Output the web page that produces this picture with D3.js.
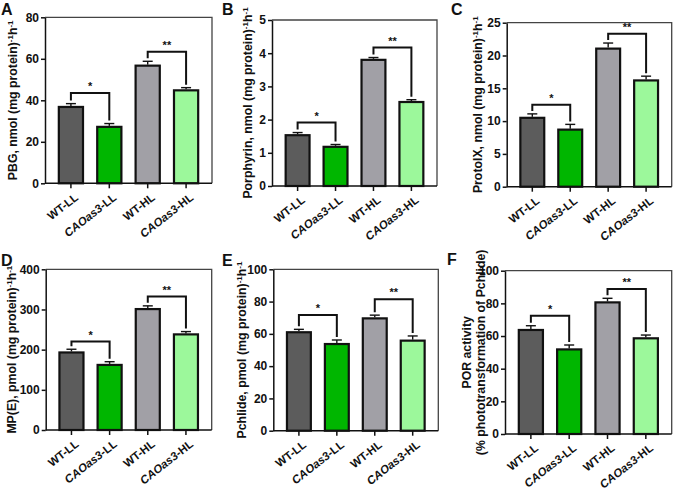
<!DOCTYPE html>
<html><head><meta charset="utf-8">
<script src="https://cdn.jsdelivr.net/npm/d3@7"></script>
<style>
html,body{margin:0;padding:0;background:#fff;}
svg{display:block;font-family:"Liberation Sans",Arial,Helvetica,sans-serif;}
</style></head>
<body>
<svg id="chart" width="676" height="490"></svg>
<script>
// ---- data ----
const categories = ["WT-LL", "CAOas3-LL", "WT-HL", "CAOas3-HL"];

const pbgMean = [36.8, 27.2, 56.7, 44.8];
const pbgErr  = [1.6, 1.6, 2.1, 1.3];
const pbgSig  = [43.5, 63.4];
const pbgTicks = [0, 20, 40, 60, 80];

const porphyrinMean = [1.53, 1.18, 3.80, 2.53];
const porphyrinErr  = [0.08, 0.07, 0.07, 0.07];
const porphyrinSig  = [1.91, 4.17];
const porphyrinTicks = [0, 1, 2, 3, 4, 5];

const protoMean = [10.5, 8.7, 21.05, 16.2];
const protoErr  = [0.6, 0.8, 0.85, 0.65];
const protoSig  = [12.5, 23.3];
const protoTicks = [0, 5, 10, 15, 20, 25];

const mpeMean = [193, 162, 301, 238];
const mpeErr  = [8, 8, 8, 7];
const mpeSig  = [220, 332];
const mpeTicks = [0, 100, 200, 300, 400];

const pchlideMean = [61.0, 53.7, 69.6, 55.8];
const pchlideErr  = [1.8, 2.5, 2.0, 2.9];
const pchlideSig  = [71.7, 81.4];
const pchlideTicks = [0, 20, 40, 60, 80, 100];

const porMean = [63.7, 51.8, 80.6, 58.6];
const porErr  = [2.6, 2.7, 2.5, 2.0];
const porSig  = [72.4, 88.8];
const porTicks = [0, 20, 40, 60, 80, 100];

const sigLabels = ["*", "**"];
const sigPairs = [[0, 1], [2, 3]];

// ---- layout / style ----
const barColors = ["#5c5c5c", "#00b600", "#a1a0a6", "#9cf89b"];

const panels = [
  {letter:"A", mean:pbgMean, err:pbgErr, sig:pbgSig, ticks:pbgTicks,
   label:[["PBG, nmol (mg protein)","-1","h","-1"]],
   x0:45, x1:212, y0:17.3, y1:183.3, lx:13, ltx:1, lty:15},
  {letter:"B", mean:porphyrinMean, err:porphyrinErr, sig:porphyrinSig, ticks:porphyrinTicks,
   label:[["Porphyrin, nmol (mg protein)","-1","h","-1"]],
   x0:272, x1:437, y0:20, y1:186, lx:248, ltx:222, lty:15},
  {letter:"C", mean:protoMean, err:protoErr, sig:protoSig, ticks:protoTicks,
   label:[["ProtoIX, nmol (mg protein)","-1","h","-1"]],
   x0:506.7, x1:671.7, y0:22.7, y1:186.7, lx:478, ltx:451, lty:15},
  {letter:"D", mean:mpeMean, err:mpeErr, sig:mpeSig, ticks:mpeTicks,
   label:[["MP(E), pmol (mg protein)","-1","h","-1"]],
   x0:45.7, x1:211.7, y0:269.3, y1:430, lx:12, ltx:1, lty:266},
  {letter:"E", mean:pchlideMean, err:pchlideErr, sig:pchlideSig, ticks:pchlideTicks,
   label:[["Pchlide, pmol (mg protein)","-1","h","-1"]],
   x0:273.3, x1:438.3, y0:269.3, y1:430.7, lx:242, ltx:222, lty:266},
  {letter:"F", mean:porMean, err:porErr, sig:porSig, ticks:porTicks,
   label:[["POR activity"],["(% phototransformation of Pchlide)"]],
   x0:505, x1:671.7, y0:270.7, y1:434, lx:474, ltx:447, lty:265}
];

const svg = d3.select("#chart");
const ink = "#111";
const fmt = d3.format("~g");

panels.forEach(p => {
  const g = svg.append("g");
  const x = d3.scaleBand().domain(categories).range([p.x0, p.x1])
    .paddingInner(0.37).paddingOuter(0.36);
  const ymax = p.ticks[p.ticks.length - 1];
  const y = d3.scaleLinear().domain([0, ymax]).range([p.y1, p.y0]);

  // box top/right
  g.append("path")
    .attr("d", `M${p.x0},${p.y0}H${p.x1}V${p.y1}`)
    .attr("fill", "none").attr("stroke", "#444").attr("stroke-width", 1.3);

  // bars
  g.selectAll("rect.bar").data(p.mean).join("rect")
    .attr("class", "bar")
    .attr("x", (d, i) => x(categories[i]))
    .attr("width", x.bandwidth())
    .attr("y", d => y(d))
    .attr("height", d => y(0) - y(d))
    .attr("fill", (d, i) => barColors[i])
    .attr("stroke", ink).attr("stroke-width", 2.2);

  // error bars (upper only)
  p.mean.forEach((m, i) => {
    const cx = x(categories[i]) + x.bandwidth() / 2;
    const top = y(m + p.err[i]);
    g.append("line").attr("x1", cx).attr("x2", cx).attr("y1", y(m) - 1).attr("y2", top)
      .attr("stroke", ink).attr("stroke-width", 1.4);
    g.append("line").attr("x1", cx - 5).attr("x2", cx + 5).attr("y1", top).attr("y2", top)
      .attr("stroke", ink).attr("stroke-width", 1.4);
  });

  // significance brackets
  sigPairs.forEach((pair, k) => {
    const [a, b] = pair;
    const xa = x(categories[a]) + x.bandwidth() / 2;
    const xb = x(categories[b]) + x.bandwidth() / 2;
    const yl = y(p.sig[k]);
    const ya = y(p.mean[a] + p.err[a]) - 3;
    const yb = y(p.mean[b] + p.err[b]) - 3;
    g.append("path").attr("d", `M${xa},${ya}V${yl}H${xb}V${yb}`)
      .attr("fill", "none").attr("stroke", ink).attr("stroke-width", 2);
    g.append("text").attr("x", (xa + xb) / 2).attr("y", yl - 3)
      .attr("text-anchor", "middle").attr("font-size", 11).attr("font-weight", "bold")
      .attr("fill", ink).text(sigLabels[k]);
  });

  // y axis
  const ya = g.append("g").attr("transform", `translate(${p.x0},0)`)
    .call(d3.axisLeft(y).tickValues(p.ticks).tickFormat(fmt).tickSize(4).tickPadding(2).tickSizeOuter(0));
  ya.select(".domain").attr("stroke", ink).attr("stroke-width", 1.5);
  ya.selectAll(".tick line").attr("stroke", ink).attr("stroke-width", 1.5);
  ya.selectAll(".tick text").attr("font-size", 12).attr("font-weight", "bold")
    .attr("fill", ink).attr("font-family", "Liberation Sans, Arial, sans-serif");

  // x axis
  const xa = g.append("g").attr("transform", `translate(0,${p.y1})`)
    .call(d3.axisBottom(x).tickSize(5).tickSizeOuter(0).tickFormat(""));
  xa.select(".domain").attr("stroke", ink).attr("stroke-width", 1.5)
    .attr("d", `M${p.x0},0H${p.x1}`);
  xa.selectAll(".tick line").attr("stroke", ink).attr("stroke-width", 1.5);
  xa.selectAll(".tick text").remove();
  categories.forEach(c => {
    const cx = x(c) + x.bandwidth() / 2;
    const t = g.append("text")
      .attr("transform", `translate(${cx + 3},${p.y1 + 9}) rotate(-38)`)
      .attr("text-anchor", "end").attr("dy", "0.72em")
      .attr("font-size", 11.5).attr("font-weight", "bold").attr("fill", ink);
    if (c.startsWith("CAOas3")) {
      t.append("tspan").attr("font-style", "italic").text("CAOas3");
      t.append("tspan").text(c.slice(6));
    } else {
      t.text(c);
    }
  });

  // y label
  const cy = (p.y0 + p.y1) / 2;
  const nLines = p.label.length;
  p.label.forEach((parts, li) => {
    const lxx = p.lx + (li - (nLines - 1) / 2) * 14;
    const t = g.append("text")
      .attr("transform", `translate(${lxx},${cy}) rotate(-90)`)
      .attr("text-anchor", "middle").attr("dy", "0.35em")
      .attr("font-size", 12.3).attr("font-weight", "bold").attr("fill", ink);
    parts.forEach((s, j) => {
      const sup = j % 2 === 1;
      const ts = t.append("tspan").text(s);
      if (sup) ts.attr("font-size", 8).attr("dy", "-0.6em");
      else if (j > 0) ts.attr("dy", "0.39em");
    });
  });

  // panel letter
  svg.append("text").attr("x", p.ltx).attr("y", p.lty)
    .attr("font-size", 16).attr("font-weight", "bold").attr("fill", ink).text(p.letter);
});
</script>
</body></html>
